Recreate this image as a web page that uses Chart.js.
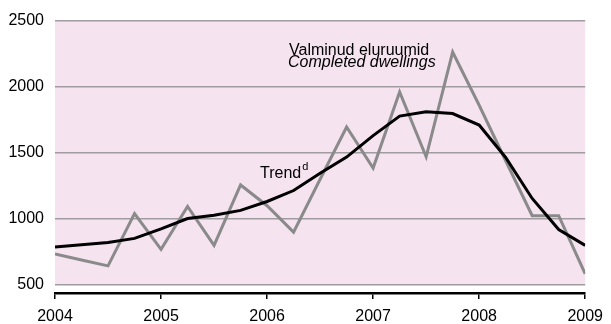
<!DOCTYPE html>
<html>
<head>
<meta charset="utf-8">
<script src="https://cdn.jsdelivr.net/npm/chart.js@4"></script>
<style>
html,body{margin:0;padding:0;background:#fff;}
#wrap{width:611px;height:324px;position:relative;}
</style>
</head>
<body>
<div id="wrap"><canvas id="c" width="611" height="324"></canvas></div>
<script>
const quarters = [2004,2004.25,2004.5,2004.75,2005,2005.25,2005.5,2005.75,2006,2006.25,2006.5,2006.75,2007,2007.25,2007.5,2007.75,2008,2008.25,2008.5,2008.75,2009];
const completed = [735,690,645,1040,770,1095,800,1257,1100,900,1300,1695,1385,1960,1470,2262,1860,1440,1025,1025,585];
const trend = [788,805,822,853,925,1003,1028,1065,1132,1215,1345,1468,1630,1778,1810,1797,1710,1465,1155,920,800];
const xTickLabels = ['2004','2005','2006','2007','2008','2009'];
const yTickValues = [500,1000,1500,2000,2500];
const seriesLabels = ['Valminud eluruumid','Completed dwellings','Trend'];

const FONT = '"Liberation Sans", Arial, sans-serif';

const bgPlugin = {
  id: 'bg',
  beforeDraw(chart){
    const {ctx, chartArea:a, scales:{y}} = chart;
    ctx.save();
    ctx.fillStyle = '#F5E3EF';
    const b = y.getPixelForValue(500);
    ctx.fillRect(a.left, a.top, a.right - a.left, b - a.top);
    ctx.restore();
  },
  afterDatasetsDraw(chart){
    const {ctx} = chart;
    ctx.save();
    ctx.fillStyle = '#000';
    ctx.textBaseline = 'alphabetic';
    ctx.textAlign = 'left';
    ctx.font = 'normal 16px ' + FONT;
    ctx.fillText(seriesLabels[0], 289, 55);
    ctx.font = 'italic 16px ' + FONT;
    ctx.fillText(seriesLabels[1], 288, 67);
    ctx.font = 'normal 16px ' + FONT;
    ctx.fillText(seriesLabels[2], 260, 178);
    const w = ctx.measureText(seriesLabels[2]).width;
    ctx.font = 'normal 11px ' + FONT;
    ctx.fillText('d', 260 + w + 1, 170);
    ctx.restore();
  }
};

new Chart(document.getElementById('c'), {
  type: 'line',
  data: {
    datasets: [
      {
        label: seriesLabels[0],
        data: quarters.map((q,i)=>({x:q,y:completed[i]})),
        borderColor: '#8A8A8A',
        borderWidth: 3,
        pointRadius: 0,
        tension: 0,
        order: 2
      },
      {
        label: seriesLabels[2],
        data: quarters.map((q,i)=>({x:q,y:trend[i]})),
        borderColor: '#000000',
        borderWidth: 3,
        pointRadius: 0,
        tension: 0,
        order: 1
      }
    ]
  },
  options: {
    responsive: false,
    animation: false,
    devicePixelRatio: 1,
    layout: { padding: { top: 19, right: 24, left: 0, bottom: 0 } },
    plugins: { legend: { display: false }, tooltip: { enabled: false } },
    scales: {
      x: {
        type: 'linear',
        min: 2004, max: 2009,
        afterBuildTicks(s){ s.ticks = xTickLabels.map(v=>({value: Number(v)})); },
        ticks: {
          callback: (v)=>String(v),
          color: '#000',
          font: { size: 16, family: FONT },
          padding: 8,
          maxRotation: 0, autoSkip: false
        },
        grid: { drawOnChartArea: false, drawTicks: true, tickLength: 6, color: '#000', lineWidth: 1.5 },
        border: { display: true, color: '#000', width: 2.5 },
        afterFit(s){ s.height = 31; }
      },
      y: {
        min: 440, max: 2500,
        afterBuildTicks(s){ s.ticks = yTickValues.map(v=>({value:v})); },
        ticks: {
          callback: (v)=>String(v),
          color: '#000',
          font: { size: 16, family: FONT },
          padding: 11
        },
        grid: { drawTicks: false, color: '#A09CA0', lineWidth: 1.5 },
        border: { display: false },
        afterFit(s){ s.width = 55; }
      }
    }
  },
  plugins: [bgPlugin]
});
</script>
</body>
</html>
